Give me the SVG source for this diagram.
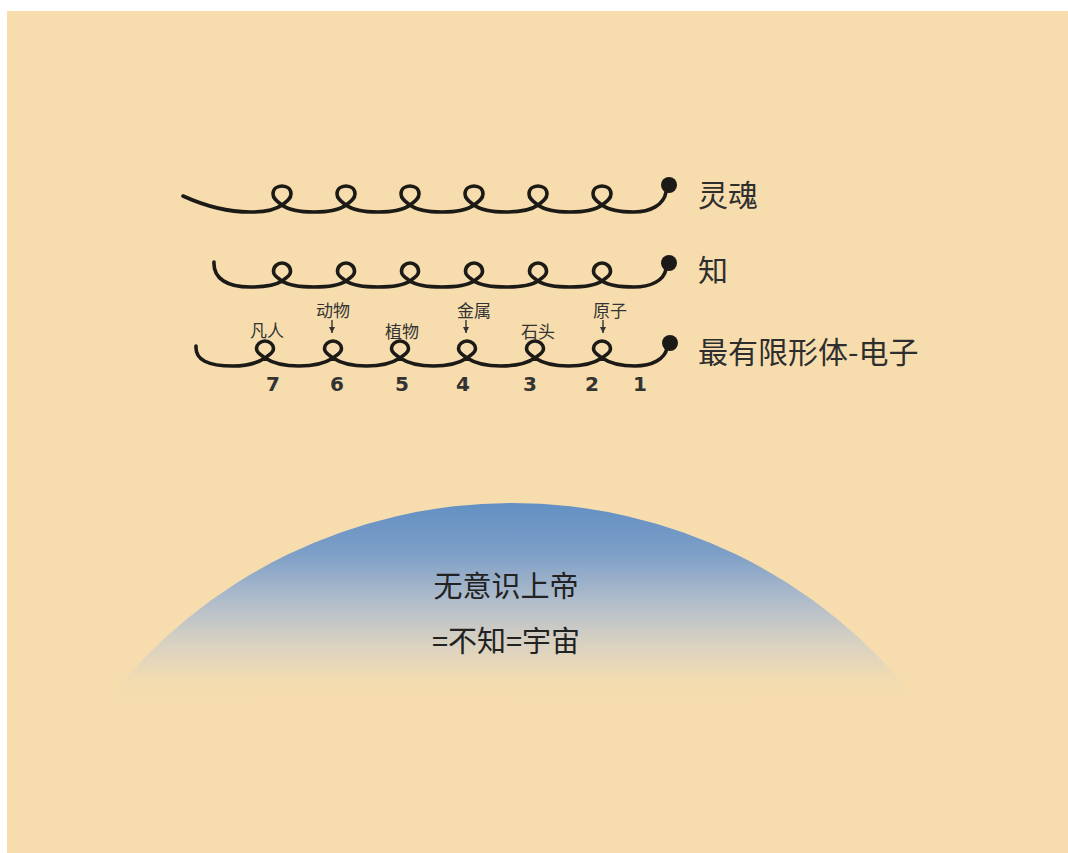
<svg xmlns="http://www.w3.org/2000/svg" width="1068" height="853" viewBox="0 0 1068 853">
<defs>
<linearGradient id="domeGrad" gradientUnits="userSpaceOnUse" x1="0" y1="503" x2="0" y2="700">
<stop offset="0" stop-color="#6390c4"/>
<stop offset="0.25" stop-color="#7c9ec7"/>
<stop offset="0.5" stop-color="#b1bdcb"/>
<stop offset="0.72" stop-color="#dad2c1"/>
<stop offset="0.9" stop-color="#f2dbb1"/>
<stop offset="1" stop-color="#f7ddad"/>
</linearGradient>
<marker id="arr" viewBox="0 0 6 6" refX="6" refY="3" markerWidth="6" markerHeight="6" markerUnits="userSpaceOnUse" orient="auto">
<path d="M0,0 L6,3 L0,6 Z" fill="#333"/>
</marker>
</defs>
<style>
.spiral{fill:none;stroke:#1c1a17;stroke-width:3.6;stroke-linecap:round;stroke-linejoin:round}
.dot{fill:#1c1a17}
.big{font-family:"Noto Sans CJK SC","Noto Sans",sans-serif;font-size:30px;fill:#2e2e2e}
.lab{font-family:"Noto Sans CJK SC","Noto Sans",sans-serif;font-size:17px;fill:#333;text-anchor:middle}
.num{font-family:"DejaVu Sans","Liberation Sans",sans-serif;font-size:20px;font-weight:bold;fill:#333;text-anchor:middle}
.dome{font-family:"Noto Sans CJK SC","Noto Sans",sans-serif;font-size:29px;fill:#222;text-anchor:middle}
.tick{stroke:#333;stroke-width:1.4}
</style>
<rect x="0" y="0" width="1068" height="853" fill="#ffffff"/>
<rect x="7" y="11" width="1061" height="842" fill="#f7ddad"/>

<g id="dome">
<path d="M107.4,700 A514,514 0 0 1 916.6,700 Z" fill="url(#domeGrad)"/>
<text class="dome" x="506" y="597">无意识上帝</text>
<text class="dome" x="506" y="652">=不知=宇宙</text>
</g>

<g id="connectors">
<path class="spiral" d="M183,196 C205,206 228,212 250,212
C266,212 276,209.5 282,205 C286,202 291,199 291,194 C291,189 287,186 282,186 C277,186 273,189 273,194 C273,199 278,202 282,205 C288,209.5 298,212 314,212
C330,212 340,209.5 346,205 C350,202 355,199 355,194 C355,189 351,186 346,186 C341,186 337,189 337,194 C337,199 342,202 346,205 C352,209.5 362,212 378,212
C394,212 404,209.5 410,205 C414,202 419,199 419,194 C419,189 415,186 410,186 C405,186 401,189 401,194 C401,199 406,202 410,205 C416,209.5 426,212 442,212
C458,212 468,209.5 474,205 C478,202 483,199 483,194 C483,189 479,186 474,186 C469,186 465,189 465,194 C465,199 470,202 474,205 C480,209.5 490,212 506,212
C522,212 532,209.5 538,205 C542,202 547,199 547,194 C547,189 543,186 538,186 C533,186 529,189 529,194 C529,199 534,202 538,205 C544,209.5 554,212 570,212
C586,212 596,209.5 602,205 C606,202 611,199 611,194 C611,189 607,186 602,186 C597,186 593,189 593,194 C593,199 598,202 602,205 C608,209.5 618,212 634,212
C650,212 664,205 666,192"/>
<path class="spiral" d="M214,262 C213,279 228,287 250,287
C266,287 276,285 282,281 C286,278 290.5,276 290.5,271.5 C290.5,266.5 286.5,263 282,263 C277.5,263 273.5,266.5 273.5,271.5 C273.5,276 278,278 282,281 C288,285 298,287 314,287
C330,287 340,285 346,281 C350,278 354.5,276 354.5,271.5 C354.5,266.5 350.5,263 346,263 C341.5,263 337.5,266.5 337.5,271.5 C337.5,276 342,278 346,281 C352,285 362,287 378,287
C394,287 404,285 410,281 C414,278 418.5,276 418.5,271.5 C418.5,266.5 414.5,263 410,263 C405.5,263 401.5,266.5 401.5,271.5 C401.5,276 406,278 410,281 C416,285 426,287 442,287
C458,287 468,285 474,281 C478,278 482.5,276 482.5,271.5 C482.5,266.5 478.5,263 474,263 C469.5,263 465.5,266.5 465.5,271.5 C465.5,276 470,278 474,281 C480,285 490,287 506,287
C522,287 532,285 538,281 C542,278 546.5,276 546.5,271.5 C546.5,266.5 542.5,263 538,263 C533.5,263 529.5,266.5 529.5,271.5 C529.5,276 534,278 538,281 C544,285 554,287 570,287
C586,287 596,285 602,281 C606,278 610.5,276 610.5,271.5 C610.5,266.5 606.5,263 602,263 C597.5,263 593.5,266.5 593.5,271.5 C593.5,276 598,278 602,281 C608,285 618,287 634,287
C650,287 664,281 666,269"/>
<path class="spiral" d="M196,346 C195,360 208,366 233,366
C249,366 259,362 265,358 C269,355 273.5,353 273.5,348.5 C273.5,344.5 269.5,341 265,341 C260.5,341 256.5,344.5 256.5,348.5 C256.5,353 261,355 265,358 C271,362 281,366 299,366
C317,366 327,362 333,358 C337,355 341.5,353 341.5,348.5 C341.5,344.5 337.5,341 333,341 C328.5,341 324.5,344.5 324.5,348.5 C324.5,353 329,355 333,358 C339,362 349,366 366.5,366
C384,366 394,362 400,358 C404,355 408.5,353 408.5,348.5 C408.5,344.5 404.5,341 400,341 C395.5,341 391.5,344.5 391.5,348.5 C391.5,353 396,355 400,358 C406,362 416,366 433.5,366
C451,366 461,362 467,358 C471,355 475.5,353 475.5,348.5 C475.5,344.5 471.5,341 467,341 C462.5,341 458.5,344.5 458.5,348.5 C458.5,353 463,355 467,358 C473,362 483,366 501,366
C519,366 529,362 535,358 C539,355 543.5,353 543.5,348.5 C543.5,344.5 539.5,341 535,341 C530.5,341 526.5,344.5 526.5,348.5 C526.5,353 531,355 535,358 C541,362 551,366 568.5,366
C586,366 596,362 602,358 C606,355 610.5,353 610.5,348.5 C610.5,344.5 606.5,341 602,341 C597.5,341 593.5,344.5 593.5,348.5 C593.5,353 598,355 602,358 C608,362 618,366 635,366
C652,366 665,359 667,348"/>
<line class="tick" x1="332" y1="320" x2="332" y2="333" marker-end="url(#arr)"/>
<line class="tick" x1="466" y1="320" x2="466" y2="333" marker-end="url(#arr)"/>
<line class="tick" x1="603" y1="320" x2="603" y2="333" marker-end="url(#arr)"/>
</g>

<g id="row-soul">
<circle class="dot" cx="669" cy="185" r="8"/>
<text class="big" x="698" y="206">灵魂</text>
</g>
<g id="row-know">
<circle class="dot" cx="669" cy="263" r="8"/>
<text class="big" x="698" y="281">知</text>
</g>
<g id="row-electron">
<circle class="dot" cx="670" cy="343" r="8"/>
<text class="big" x="698" y="363">最有限形体-电子</text>
</g>

<g id="labels">
<text class="lab" x="267" y="337">凡人</text>
<text class="lab" x="333" y="317">动物</text>
<text class="lab" x="402" y="338">植物</text>
<text class="lab" x="474" y="317">金属</text>
<text class="lab" x="538" y="338">石头</text>
<text class="lab" x="610" y="317">原子</text>
</g>

<g id="numbers">
<text class="num" x="273" y="391">7</text>
<text class="num" x="337" y="391">6</text>
<text class="num" x="402" y="391">5</text>
<text class="num" x="463" y="391">4</text>
<text class="num" x="530" y="391">3</text>
<text class="num" x="592" y="391">2</text>
<text class="num" x="640" y="391">1</text>
</g>
</svg>
